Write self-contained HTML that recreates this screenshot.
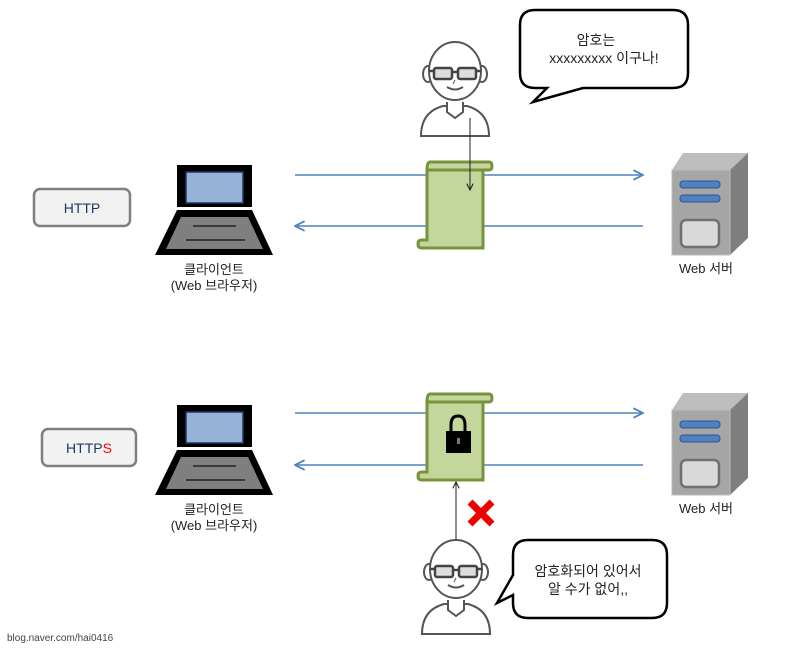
<!DOCTYPE html>
<html><head><meta charset="utf-8"><style>
body{margin:0;background:#fff}
svg{display:block}
text{font-family:"Liberation Sans","Noto Sans CJK KR",sans-serif}
</style></head><body>
<svg width="800" height="648" viewBox="0 0 800 648" xmlns="http://www.w3.org/2000/svg">
<defs>
<g id="person" fill="#fff" stroke="#555" stroke-width="2">
  <path d="M-34,68 Q-34,44 -12,38 L12,38 Q34,44 34,68 Z"/>
  <path d="M-8,34 L-8,44 L0,50 L8,44 L8,34"/>
  <ellipse cx="-27" cy="6" rx="5" ry="8"/>
  <ellipse cx="27" cy="6" rx="5" ry="8"/>
  <ellipse cx="0" cy="3" rx="26" ry="29"/>
  <rect x="-21" y="0" width="18" height="11" rx="2" fill="#ddd" stroke="#444" stroke-width="2.5"/>
  <rect x="3" y="0" width="18" height="11" rx="2" fill="#ddd" stroke="#444" stroke-width="2.5"/>
  <path d="M-3,4 L3,4 M-26,3 L-21,3 M21,3 L26,3" stroke="#444" stroke-width="2.5"/>
  <path d="M-8,19 Q0,24 8,19" fill="none"/>
  <path d="M0,12 L-2,16" fill="none" stroke-width="1"/>
</g>
<g id="laptop">
  <rect x="177" y="165" width="75" height="42" fill="#000"/>
  <rect x="186" y="172" width="57" height="31" fill="#95b3d7" stroke="#1f3864" stroke-width="1.5"/>
  <path d="M177,210 L252,210 L273,255 L155,255 Z" fill="#000"/>
  <path d="M181,217 L248,217 L263,249 L166,249 Z" fill="#7f7f7f"/>
  <path d="M193,226 L236,226 M186,240 L245,240" stroke="#222" stroke-width="1.5"/>
</g>
<g id="server">
  <path d="M672,170 L683,153 L748,153 L730,170 Z" fill="#bdbdbd"/>
  <path d="M730,170 L748,153 L748,238 L730,255 Z" fill="#7f7f7f"/>
  <rect x="672" y="170" width="58" height="85" fill="#a6a6a6" stroke="#bbb"/>
  <rect x="680" y="181" width="40" height="7" rx="3" fill="#4f81bd" stroke="#2f5597"/>
  <rect x="680" y="195" width="40" height="7" rx="3" fill="#4f81bd" stroke="#2f5597"/>
  <rect x="681" y="220" width="38" height="27" rx="5" fill="#d9d9d9" stroke="#6f6f6f" stroke-width="2.5"/>
</g>
<g id="scroll" fill="#c3d69b" stroke="#77933c" stroke-width="3">
  <path d="M427,170 L427,240 L422,240 Q418,240 418,244 Q418,248 422,248 L483,248 L483,170 Z"/>
  <path d="M430,162 L489,162 Q492,162 492,166 Q492,170 489,170 L427,170 Q427,162 430,162 Z"/>
</g>
<marker id="ab" viewBox="0 0 10 10" refX="9" refY="5" markerWidth="8" markerHeight="8" orient="auto-start-reverse"><path d="M1,1 L9,5 L1,9" fill="none" stroke="#4f81bd" stroke-width="1.5"/></marker>
<marker id="ak" viewBox="0 0 10 10" refX="9" refY="5" markerWidth="8" markerHeight="8" orient="auto"><path d="M1,1 L9,5 L1,9" fill="none" stroke="#222" stroke-width="1.3"/></marker>
</defs>

<!-- top -->
<rect x="34" y="189" width="96" height="37" rx="6" fill="#f2f2f2" stroke="#7f7f7f" stroke-width="2.5"/>
<text x="82" y="213" font-size="14" text-anchor="middle" fill="#1f3864">HTTP</text>
<use href="#laptop"/>
<text x="214" y="274" font-size="13" text-anchor="middle" fill="#222">클라이언트</text>
<text x="214" y="290" font-size="13" text-anchor="middle" fill="#222">(Web 브라우저)</text>
<line x1="295" y1="175" x2="643" y2="175" stroke="#4f81bd" stroke-width="1.5" marker-end="url(#ab)"/>
<line x1="643" y1="226" x2="295" y2="226" stroke="#4f81bd" stroke-width="1.5" marker-end="url(#ab)"/>
<use href="#scroll"/>
<use href="#server"/>
<text x="706" y="273" font-size="13" text-anchor="middle" fill="#222">Web 서버</text>
<use href="#person" transform="translate(455,68)"/>
<line x1="470" y1="118" x2="470" y2="190" stroke="#222" stroke-width="1" marker-end="url(#ak)"/>
<path d="M535,10 L673,10 Q688,10 688,25 L688,73 Q688,88 673,88 L583,88 L533,102 L547,88 L535,88 Q520,88 520,73 L520,25 Q520,10 535,10 Z" fill="#fff" stroke="#000" stroke-width="2.5"/>
<text x="596" y="45" font-size="14" text-anchor="middle" fill="#222">암호는</text>
<text x="604" y="63" font-size="14" text-anchor="middle" fill="#222">xxxxxxxxx 이구나!</text>

<!-- bottom -->
<rect x="42" y="429" width="94" height="37" rx="6" fill="#f2f2f2" stroke="#7f7f7f" stroke-width="2.5"/>
<text x="89" y="453" font-size="14" text-anchor="middle" fill="#1f3864">HTTP<tspan fill="#ff0000">S</tspan></text>
<use href="#laptop" transform="translate(0,240)"/>
<text x="214" y="514" font-size="13" text-anchor="middle" fill="#222">클라이언트</text>
<text x="214" y="530" font-size="13" text-anchor="middle" fill="#222">(Web 브라우저)</text>
<line x1="295" y1="413" x2="643" y2="413" stroke="#4f81bd" stroke-width="1.5" marker-end="url(#ab)"/>
<line x1="643" y1="465" x2="295" y2="465" stroke="#4f81bd" stroke-width="1.5" marker-end="url(#ab)"/>
<use href="#scroll" transform="translate(0,232)"/>
<path d="M451,432 L451,425 Q451,416 458,416 Q465,416 465,425 L465,432" fill="none" stroke="#000" stroke-width="3"/>
<rect x="446" y="431" width="25" height="22" fill="#000"/>
<rect x="457" y="438" width="3" height="6" fill="#777"/>
<use href="#server" transform="translate(0,240)"/>
<text x="706" y="513" font-size="13" text-anchor="middle" fill="#222">Web 서버</text>
<line x1="456" y1="540" x2="456" y2="482" stroke="#222" stroke-width="1" marker-end="url(#ak)"/>
<path d="M470,502 L492,524 M492,502 L470,524" stroke="#e00" stroke-width="7"/>
<use href="#person" transform="translate(456,566)"/>
<path d="M528,540 L652,540 Q667,540 667,555 L667,603 Q667,618 652,618 L528,618 Q513,618 513,603 L513,595 L497,603 L513,575 L513,555 Q513,540 528,540 Z" fill="#fff" stroke="#000" stroke-width="2.5"/>
<text x="588" y="576" font-size="14" text-anchor="middle" fill="#222">암호화되어 있어서</text>
<text x="588" y="594" font-size="14" text-anchor="middle" fill="#222">알 수가 없어,,</text>

<text x="7" y="641" font-size="10" fill="#444">blog.naver.com/hai0416</text>
</svg>
</body></html>
